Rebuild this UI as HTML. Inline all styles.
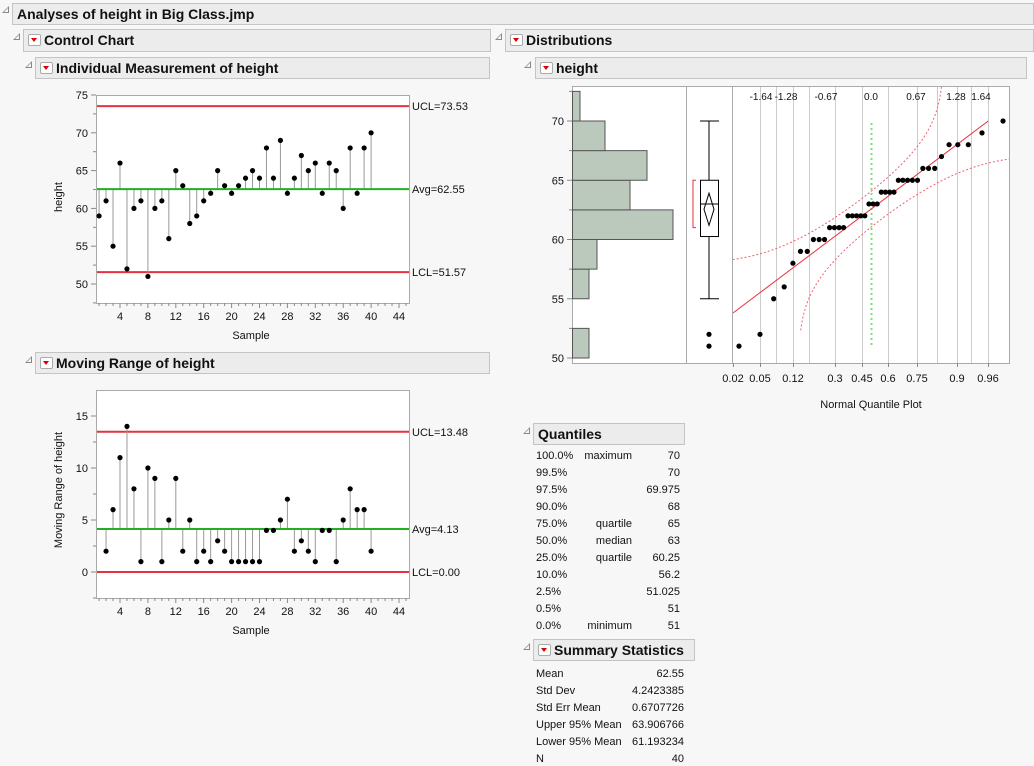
<!DOCTYPE html>
<html><head><meta charset="utf-8">
<style>
body{margin:0;width:1034px;height:766px;background:#f7f7f7;font-family:"Liberation Sans",sans-serif;position:relative;overflow:hidden}
.h{position:absolute;background:#ececec;border:1px solid #c4c4c4;box-sizing:border-box;font-weight:bold;font-size:14px;color:#111;line-height:20px;padding-left:4px}
.h .b{display:inline-block;width:11px;height:10px;border:1px solid #aaa;background:#fff;border-radius:2px;vertical-align:-1px;margin-right:3px;position:relative}
.h .b:after{content:"";position:absolute;left:2px;top:3px;border-left:3.5px solid transparent;border-right:3.5px solid transparent;border-top:4px solid #d00}
.t{position:absolute;width:0;height:0;border-left:7px solid transparent;border-bottom:7px solid #888}
.t:after{content:"";position:absolute;left:-5px;top:1.5px;border-left:4.5px solid transparent;border-bottom:4.5px solid #f7f7f7}
svg{position:absolute;left:0;top:0}
</style></head><body>
<div class="t" style="left:2px;top:6px"></div>
<div class="h" style="left:12px;top:3px;width:1022px;height:22px">Analyses of height in Big Class.jmp</div>
<div class="t" style="left:13px;top:33px"></div>
<div class="h" style="left:23px;top:29px;width:468px;height:23px"><span class="b"></span>Control Chart</div>
<div class="t" style="left:495px;top:33px"></div>
<div class="h" style="left:505px;top:29px;width:529px;height:23px"><span class="b"></span>Distributions</div>
<div class="t" style="left:25px;top:61px"></div>
<div class="h" style="left:35px;top:57px;width:455px;height:22px"><span class="b"></span>Individual Measurement of height</div>
<div class="t" style="left:524px;top:61px"></div>
<div class="h" style="left:535px;top:57px;width:492px;height:22px"><span class="b"></span>height</div>
<div class="t" style="left:25px;top:356px"></div>
<div class="h" style="left:35px;top:352px;width:455px;height:22px"><span class="b"></span>Moving Range of height</div>
<div class="t" style="left:523px;top:427px"></div>
<div class="h" style="left:533px;top:423px;width:152px;height:22px">Quantiles</div>
<div class="t" style="left:523px;top:643px"></div>
<div class="h" style="left:533px;top:639px;width:162px;height:22px"><span class="b"></span>Summary Statistics</div>
<svg id="s" width="1034" height="766" xmlns="http://www.w3.org/2000/svg" font-family="Liberation Sans, sans-serif" font-size="11"></svg>
<script>
var d=[59,61,55,66,52,60,61,51,60,61,56,65,63,58,59,61,62,65,63,62,63,64,65,64,68,64,69,62,64,67,65,66,62,66,65,60,68,62,68,70];
var o='';
function L(x1,y1,x2,y2,c,w,da){o+='<line x1="'+x1+'" y1="'+y1+'" x2="'+x2+'" y2="'+y2+'" stroke="'+c+'" stroke-width="'+(w||1)+'"'+(da?' stroke-dasharray="'+da+'"':'')+'/>';}
function T(x,y,s,a,ex){o+='<text x="'+x+'" y="'+y+'" text-anchor="'+(a||'start')+'" '+(ex||'')+' fill="#111">'+s+'</text>';}
function C(x,y,r){o+='<circle cx="'+x+'" cy="'+y+'" r="'+(r||2.6)+'" fill="#000"/>';}
function X(s){return 120+(s-4)*6.975;}
function chart(top,bot,Y,vals,start,ucl,avg,lcl,labs,ticks,minor,ylab,ly,sy){
 o+='<rect x="96.5" y="'+(top+.5)+'" width="313" height="'+(bot-top)+'" fill="#fff" stroke="#aaa"/>';
 L(97,Y(ucl),409,Y(ucl),'#e8303f',2);L(97,Y(lcl),409,Y(lcl),'#e8303f',2);
 for(var i=0;i<vals.length;i++){var s=i+start;L(X(s),Y(avg),X(s),Y(vals[i]),'#999',1);}
 L(97,Y(avg),409,Y(avg),'#22b022',2);
 for(i=0;i<vals.length;i++)C(X(i+start),Y(vals[i]));
 T(412,Y(ucl)+4,labs[0]);T(412,Y(avg)+4,labs[1]);T(412,Y(lcl)+4,labs[2]);
 for(var s=1;s<=45;s++){L(X(s),bot,X(s),bot+(s%4==0?5:3),'#888');if(s%4==0)T(X(s),bot+17,s,'middle');}
 ticks.forEach(function(v){L(91,Y(v),96,Y(v),'#888');T(88,Y(v)+4,v,'end');});
 minor.forEach(function(v){L(93,Y(v),96,Y(v),'#888');});
 T(251,sy,'Sample','middle');
 o+='<text x="62" y="'+ly+'" text-anchor="middle" transform="rotate(-90 62 '+ly+')" fill="#111">'+ylab+'</text>';
}
chart(95,303,function(v){return 95+(75-v)*7.56;},d,1,73.53,62.55,51.57,['UCL=73.53','Avg=62.55','LCL=51.57'],[50,55,60,65,70,75],[47.5,52.5,57.5,62.5,67.5,72.5],'height',197,339);
var mr=[];for(var i=1;i<d.length;i++)mr.push(Math.abs(d[i]-d[i-1]));
chart(390,598,function(v){return 572-10.4*v;},mr,2,13.48,4.13,0,['UCL=13.48','Avg=4.13','LCL=0.00'],[0,5,10,15],[-2.5,2.5,7.5,12.5],'Moving Range of height',490,634);
function DY(v){return 358-(v-50)*11.85;}
o+='<rect x="572.5" y="86.5" width="437" height="277" fill="#fff" stroke="#aaa"/>';
L(686.5,87,686.5,363,'#aaa');L(732.5,87,732.5,363,'#aaa');
var bins=[[50,589],[52.5,572],[55,589],[57.5,597],[60,673],[62.5,630],[65,647],[67.5,605],[70,580]];
bins.forEach(function(b){if(b[1]>572)o+='<rect x="572.5" y="'+DY(b[0]+2.5)+'" width="'+(b[1]-572.5)+'" height="'+(DY(b[0])-DY(b[0]+2.5))+'" fill="#bac9bc" stroke="#555"/>';});
[50,55,60,65,70].forEach(function(v){L(567,DY(v),572,DY(v),'#888');T(564,DY(v)+4,v,'end');});
[52.5,57.5,62.5,67.5,72.5].forEach(function(v){L(569,DY(v),572,DY(v),'#888');});
L(709,DY(70),709,DY(55),'#000');L(700,DY(70),719,DY(70),'#000');L(700,DY(55),719,DY(55),'#000');
o+='<rect x="700.5" y="'+DY(65)+'" width="18" height="'+(DY(60.25)-DY(65))+'" fill="#fff" stroke="#000"/>';
L(700,DY(63),719,DY(63),'#000');
o+='<polygon points="709,'+DY(63.907)+' 714,'+DY(62.55)+' 709,'+DY(61.193)+' 704,'+DY(62.55)+'" fill="none" stroke="#000"/>';
o+='<polyline points="696,'+DY(65)+' 693,'+DY(65)+' 693,'+DY(61)+' 696,'+DY(61)+'" fill="none" stroke="#e8303f"/>';
C(709,DY(52));C(709,DY(51));
function ZX(z){return 871+67*z;}
[760,776,793,809,835,862,888,917,937,957,971,988].forEach(function(x){L(x+.5,87,x+.5,363,'#ccc');});
[[-1.64,761],[-1.28,786],[-0.67,826],['0.0',871],[0.67,916],[1.28,956],[1.64,981]].forEach(function(a){T(a[1],100,a[0],'middle','font-size="10"');});
[['0.02',733],['0.05',760],['0.12',793],['0.3',835],['0.45',862],['0.6',888],['0.75',917],['0.9',957],['0.96',988]].forEach(function(a){L(a[1]+.5,363,a[1]+.5,367,'#888');T(a[1],382,a[0],'middle');});
T(871,408,'Normal Quantile Plot','middle');
L(871.5,123,871.5,347,'#7fdc7f',2,'2,3');
function ninv(p){var a=[-39.6968302866538,220.946098424521,-275.928510446969,138.357751867269,-30.6647980661472,2.50662827745924],b=[-54.4760987982241,161.585836858041,-155.698979859887,66.8013118877197,-13.2806815528857],c=[-0.00778489400243029,-0.322396458041136,-2.40075827716184,-2.54973253934373,4.37466414146497,2.93816398269878],dd=[0.00778469570904146,0.32246712907004,2.445134137143,3.75440866190742];var q,r;if(p<0.02425){q=Math.sqrt(-2*Math.log(p));return(((((c[0]*q+c[1])*q+c[2])*q+c[3])*q+c[4])*q+c[5])/((((dd[0]*q+dd[1])*q+dd[2])*q+dd[3])*q+1);}if(p>1-0.02425){q=Math.sqrt(-2*Math.log(1-p));return-(((((c[0]*q+c[1])*q+c[2])*q+c[3])*q+c[4])*q+c[5])/((((dd[0]*q+dd[1])*q+dd[2])*q+dd[3])*q+1);}q=p-0.5;r=q*q;return(((((a[0]*r+a[1])*r+a[2])*r+a[3])*r+a[4])*r+a[5])*q/(((((b[0]*r+b[1])*r+b[2])*r+b[3])*r+b[4])*r+1);}
o+='<defs><clipPath id="cp"><rect x="733" y="87" width="276" height="276"/></clipPath></defs><g clip-path="url(#cp)">';
L(ZX(-2.06),DY(53.8),ZX(1.75),DY(70),'#e8303f',1);
var D=0.139,up='',lo='';
for(var p=0.0195;p<=0.995;p+=0.0025){var z=ninv(p),pu=p+D,pl=p-D;
 if(pu<0.9995)up+=ZX(z)+','+DY(62.55+4.2423*ninv(pu))+' ';
 if(pl>0.0065)lo+=ZX(z)+','+DY(62.55+4.2423*ninv(pl))+' ';}
o+='<polyline points="'+up+'" fill="none" stroke="#f06070" stroke-dasharray="2,2"/><polyline points="'+lo+'" fill="none" stroke="#f06070" stroke-dasharray="2,2"/></g>';
var sd=d.slice().sort(function(a,b){return a-b;});
sd.forEach(function(v,i){C(ZX(ninv((i+1)/41)),DY(v));});
var q=[['100.0%','maximum','70'],['99.5%','','70'],['97.5%','','69.975'],['90.0%','','68'],['75.0%','quartile','65'],['50.0%','median','63'],['25.0%','quartile','60.25'],['10.0%','','56.2'],['2.5%','','51.025'],['0.5%','','51'],['0.0%','minimum','51']];
q.forEach(function(r,i){var y=459+i*17;T(536,y,r[0]);T(632,y,r[1],'end');T(680,y,r[2],'end');});
var s=[['Mean','62.55'],['Std Dev','4.2423385'],['Std Err Mean','0.6707726'],['Upper 95% Mean','63.906766'],['Lower 95% Mean','61.193234'],['N','40']];
s.forEach(function(r,i){var y=677+i*17;T(536,y,r[0]);T(684,y,r[1],'end');});
document.getElementById('s').innerHTML=o;
</script>
</body></html>
